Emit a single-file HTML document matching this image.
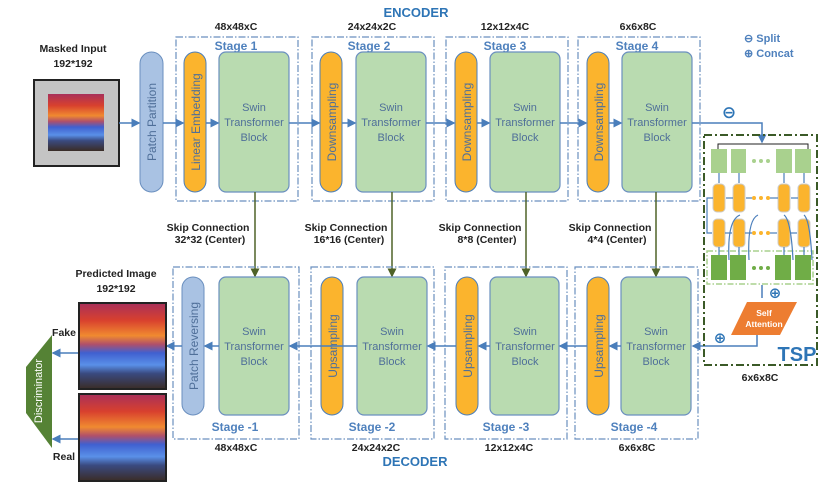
<!DOCTYPE html>
<html><head><meta charset="utf-8"><style>
body{margin:0;background:#fff}
svg{display:block}
text{font-family:"Liberation Sans",sans-serif}
.b{font-family:"DejaVu Sans","Liberation Sans",sans-serif}
.dim{font-size:10.5px;font-weight:bold;fill:#222;text-anchor:middle}
.stg{font-size:12px;font-weight:bold;fill:#4f81bd;text-anchor:middle}
.blk{font-size:11px;fill:#4f6f99;text-anchor:middle}
.vt{font-size:12px;fill:#4f6f99;text-anchor:middle}
.ln{stroke:#4a7ebb;stroke-width:1.5;fill:none}
.sk{stroke:#4f6228;stroke-width:1.5;fill:none}
.box{fill:none;stroke:#6a8fbf;stroke-width:1.2;stroke-dasharray:7 2 1.5 2}
.or{fill:#fbb42d;stroke:#4a7ebb;stroke-width:1}
.gr{fill:#b9dbb0;stroke:#6a8fbf;stroke-width:1.2}
</style></head><body>
<svg width="839" height="490" viewBox="0 0 839 490" xmlns="http://www.w3.org/2000/svg">
<defs>
<marker id="ab" markerWidth="6" markerHeight="6" refX="5" refY="3" orient="auto"><path d="M0,0 L6,3 L0,6 z" fill="#4a7ebb"/></marker>
<marker id="ag" markerWidth="6" markerHeight="6" refX="5" refY="3" orient="auto"><path d="M0,0 L6,3 L0,6 z" fill="#4f6228"/></marker>
<linearGradient id="sun" x1="0" y1="0" x2="0" y2="1">
<stop offset="0" stop-color="#a8305a"/><stop offset="0.2" stop-color="#d8402e"/><stop offset="0.38" stop-color="#f08a30"/><stop offset="0.48" stop-color="#b0506a"/><stop offset="0.58" stop-color="#4060d0"/><stop offset="0.72" stop-color="#5a90e8"/><stop offset="0.82" stop-color="#3a4a80"/><stop offset="1" stop-color="#3a2c26"/>
</linearGradient>
</defs>

<text x="416" y="17" font-size="13" font-weight="bold" fill="#2e75b6" text-anchor="middle">ENCODER</text>
<text x="415" y="466" font-size="13" font-weight="bold" fill="#2e75b6" text-anchor="middle">DECODER</text>
<text x="744" y="42" font-size="11" font-weight="bold" fill="#4f81bd">⊖ Split</text>
<text x="744" y="57" font-size="11" font-weight="bold" fill="#4f81bd">⊕ Concat</text>

<text x="73" y="52" class="dim">Masked Input</text>
<text x="73" y="67" class="dim">192*192</text>
<rect x="34" y="80" width="85" height="86" fill="#c4c4c4" stroke="#222" stroke-width="2"/>
<rect x="48" y="94" width="56" height="57" fill="url(#sun)"/>

<rect x="140" y="52" width="23" height="140" rx="11.5" fill="#a9c2e3" stroke="#6a8fbf"/>
<text class="vt" transform="translate(156,122) rotate(-90)">Patch Partition</text>

<g>
<rect class="box" x="176" y="37" width="122" height="164"/>
<rect class="box" x="312" y="37" width="122" height="164"/>
<rect class="box" x="446" y="37" width="122" height="164"/>
<rect class="box" x="578" y="37" width="122" height="164"/>
<text class="dim" x="236" y="30">48x48xC</text>
<text class="dim" x="372" y="30">24x24x2C</text>
<text class="dim" x="505" y="30">12x12x4C</text>
<text class="dim" x="638" y="30">6x6x8C</text>
<text class="stg" x="236" y="50">Stage 1</text>
<text class="stg" x="369" y="50">Stage 2</text>
<text class="stg" x="505" y="50">Stage 3</text>
<text class="stg" x="637" y="50">Stage 4</text>
<rect class="or" x="184" y="52" width="22" height="140" rx="11"/>
<rect class="or" x="320" y="52" width="22" height="140" rx="11"/>
<rect class="or" x="455" y="52" width="22" height="140" rx="11"/>
<rect class="or" x="587" y="52" width="22" height="140" rx="11"/>
<text class="vt" transform="translate(200,122) rotate(-90)">Linear Embedding</text>
<text class="vt" transform="translate(336,122) rotate(-90)">Downsampling</text>
<text class="vt" transform="translate(471,122) rotate(-90)">Downsampling</text>
<text class="vt" transform="translate(603,122) rotate(-90)">Downsampling</text>
<rect class="gr" x="219" y="52" width="70" height="140" rx="7"/>
<rect class="gr" x="356" y="52" width="70" height="140" rx="7"/>
<rect class="gr" x="490" y="52" width="70" height="140" rx="7"/>
<rect class="gr" x="622" y="52" width="70" height="140" rx="7"/>
<g class="blk">
<text x="254" y="111">Swin</text><text x="254" y="126">Transformer</text><text x="254" y="141">Block</text>
<text x="391" y="111">Swin</text><text x="391" y="126">Transformer</text><text x="391" y="141">Block</text>
<text x="525" y="111">Swin</text><text x="525" y="126">Transformer</text><text x="525" y="141">Block</text>
<text x="657" y="111">Swin</text><text x="657" y="126">Transformer</text><text x="657" y="141">Block</text>
</g>
</g>
<g class="ln">
<line x1="119" y1="123" x2="139" y2="123" marker-end="url(#ab)"/>
<line x1="163" y1="123" x2="183" y2="123" marker-end="url(#ab)"/>
<line x1="206" y1="123" x2="218" y2="123" marker-end="url(#ab)"/>
<line x1="289" y1="123" x2="319" y2="123" marker-end="url(#ab)"/>
<line x1="342" y1="123" x2="355" y2="123" marker-end="url(#ab)"/>
<line x1="426" y1="123" x2="454" y2="123" marker-end="url(#ab)"/>
<line x1="477" y1="123" x2="489" y2="123" marker-end="url(#ab)"/>
<line x1="560" y1="123" x2="586" y2="123" marker-end="url(#ab)"/>
<line x1="609" y1="123" x2="621" y2="123" marker-end="url(#ab)"/>
<polyline points="692,123 762,123 762,142" marker-end="url(#ab)"/>
</g>
<text x="729" y="118" font-size="17" font-weight="bold" fill="#2e75b6" text-anchor="middle" class="b">⊖</text>

<g class="sk">
<line x1="255" y1="192" x2="255" y2="276" marker-end="url(#ag)"/>
<line x1="392" y1="192" x2="392" y2="276" marker-end="url(#ag)"/>
<line x1="526" y1="192" x2="526" y2="276" marker-end="url(#ag)"/>
<line x1="656" y1="192" x2="656" y2="276" marker-end="url(#ag)"/>
</g>
<g class="dim" style="fill:#222">
<text x="208" y="231">Skip Connection</text><text x="210" y="243">32*32 (Center)</text>
<text x="346" y="231">Skip Connection</text><text x="349" y="243">16*16 (Center)</text>
<text x="480" y="231">Skip Connection</text><text x="487" y="243">8*8 (Center)</text>
<text x="610" y="231">Skip Connection</text><text x="617" y="243">4*4 (Center)</text>
</g>

<g>
<rect class="box" x="173" y="267" width="126" height="172"/>
<rect class="box" x="311" y="267" width="123" height="172"/>
<rect class="box" x="445" y="267" width="122" height="172"/>
<rect class="box" x="575" y="267" width="123" height="172"/>
<text class="stg" x="235" y="431">Stage -1</text>
<text class="stg" x="372" y="431">Stage -2</text>
<text class="stg" x="506" y="431">Stage -3</text>
<text class="stg" x="634" y="431">Stage -4</text>
<text class="dim" x="236" y="451">48x48xC</text>
<text class="dim" x="376" y="451">24x24x2C</text>
<text class="dim" x="509" y="451">12x12x4C</text>
<text class="dim" x="637" y="451">6x6x8C</text>
<rect x="182" y="277" width="22" height="138" rx="11" fill="#a9c2e3" stroke="#6a8fbf"/>
<rect class="or" x="321" y="277" width="22" height="138" rx="11"/>
<rect class="or" x="456" y="277" width="22" height="138" rx="11"/>
<rect class="or" x="587" y="277" width="22" height="138" rx="11"/>
<text class="vt" transform="translate(198,346) rotate(-90)">Patch Reversing</text>
<text class="vt" transform="translate(337,346) rotate(-90)">Upsampling</text>
<text class="vt" transform="translate(472,346) rotate(-90)">Upsampling</text>
<text class="vt" transform="translate(603,346) rotate(-90)">Upsampling</text>
<rect class="gr" x="219" y="277" width="70" height="138" rx="7"/>
<rect class="gr" x="357" y="277" width="70" height="138" rx="7"/>
<rect class="gr" x="490" y="277" width="69" height="138" rx="7"/>
<rect class="gr" x="621" y="277" width="70" height="138" rx="7"/>
<g class="blk">
<text x="254" y="335">Swin</text><text x="254" y="350">Transformer</text><text x="254" y="365">Block</text>
<text x="392" y="335">Swin</text><text x="392" y="350">Transformer</text><text x="392" y="365">Block</text>
<text x="525" y="335">Swin</text><text x="525" y="350">Transformer</text><text x="525" y="365">Block</text>
<text x="656" y="335">Swin</text><text x="656" y="350">Transformer</text><text x="656" y="365">Block</text>
</g>
</g>
<g class="ln">
<line x1="219" y1="346" x2="205" y2="346" marker-end="url(#ab)"/>
<line x1="182" y1="346" x2="167" y2="346" marker-end="url(#ab)"/>
<line x1="357" y1="346" x2="290" y2="346" marker-end="url(#ab)"/>
<line x1="456" y1="346" x2="428" y2="346" marker-end="url(#ab)"/>
<line x1="490" y1="346" x2="479" y2="346" marker-end="url(#ab)"/>
<line x1="587" y1="346" x2="560" y2="346" marker-end="url(#ab)"/>
<line x1="621" y1="346" x2="610" y2="346" marker-end="url(#ab)"/>
<polyline points="757,318 757,346 693,346" marker-end="url(#ab)"/>
<line x1="78" y1="353" x2="53" y2="353" marker-end="url(#ab)"/>
<line x1="78" y1="439" x2="53" y2="439" marker-end="url(#ab)"/>
</g>

<text x="116" y="277" class="dim">Predicted Image</text>
<text x="116" y="292" class="dim">192*192</text>
<rect x="79" y="303" width="87" height="86" fill="url(#sun)" stroke="#222" stroke-width="2"/>
<rect x="79" y="394" width="87" height="87" fill="url(#sun)" stroke="#222" stroke-width="2"/>
<text x="64" y="336" class="dim">Fake</text>
<text x="64" y="460" class="dim">Real</text>
<polygon points="52,335 26,367 26,413 52,448" fill="#558235"/>
<text transform="translate(42,391) rotate(-90)" font-size="11" fill="#fff" text-anchor="middle">Discriminator</text>

<rect x="704" y="135" width="113" height="230" fill="none" stroke="#3b5a27" stroke-width="2" stroke-dasharray="8 3 2 3"/>
<polyline points="718,150 718,144 808,144 808,150" fill="none" stroke="#222" stroke-width="1"/>
<g fill="#a9d18e">
<rect x="711" y="149" width="16" height="24"/><rect x="731" y="149" width="15" height="24"/>
<rect x="776" y="149" width="16" height="24"/><rect x="795" y="149" width="16" height="24"/>
</g>
<g fill="#a9d18e"><circle cx="754" cy="161" r="2"/><circle cx="761" cy="161" r="2"/><circle cx="768" cy="161" r="2"/></g>
<g class="or" style="stroke:#ccc">
<rect x="713" y="184" width="12" height="28" rx="4"/><rect x="733" y="184" width="12" height="28" rx="4"/>
<rect x="778" y="184" width="12" height="28" rx="4"/><rect x="798" y="184" width="12" height="28" rx="4"/>
<rect x="713" y="219" width="12" height="28" rx="4"/><rect x="733" y="219" width="12" height="28" rx="4"/>
<rect x="778" y="219" width="12" height="28" rx="4"/><rect x="798" y="219" width="12" height="28" rx="4"/>
</g>
<g fill="#fbb42d"><circle cx="754" cy="198" r="2"/><circle cx="761" cy="198" r="2"/><circle cx="768" cy="198" r="2"/>
<circle cx="754" cy="233" r="2"/><circle cx="761" cy="233" r="2"/><circle cx="768" cy="233" r="2"/></g>
<rect x="707" y="251" width="106" height="33" fill="none" stroke="#a9d18e" stroke-width="1.5" stroke-dasharray="6 2 1.5 2"/>
<g fill="#70ad47">
<rect x="711" y="255" width="16" height="25"/><rect x="730" y="255" width="16" height="25"/>
<rect x="775" y="255" width="16" height="25"/><rect x="795" y="255" width="16" height="25"/>
</g>
<g fill="#70ad47"><circle cx="754" cy="268" r="2"/><circle cx="761" cy="268" r="2"/><circle cx="768" cy="268" r="2"/></g>
<g stroke="#4a7ebb" stroke-width="1.2" fill="none">
<line x1="719" y1="173" x2="719" y2="183"/><line x1="739" y1="173" x2="739" y2="183"/>
<line x1="784" y1="173" x2="784" y2="183"/><line x1="804" y1="173" x2="804" y2="183"/>
<line x1="798" y1="198" x2="791" y2="198"/><line x1="778" y1="198" x2="770" y2="198"/>
<line x1="752" y1="198" x2="746" y2="198"/><line x1="733" y1="198" x2="726" y2="198"/>
<polyline points="713,198 707,198 707,233 712,233"/>
<line x1="725" y1="233" x2="732" y2="233"/><line x1="745" y1="233" x2="752" y2="233"/>
<line x1="770" y1="233" x2="777" y2="233"/><line x1="790" y1="233" x2="797" y2="233"/>
<path d="M729,260 Q727,220 740,215"/><path d="M749,260 Q747,220 758,215"/>
<path d="M793,260 Q791,220 784,215"/><path d="M812,260 Q810,220 804,215"/>
<line x1="719" y1="247" x2="719" y2="255"/><line x1="739" y1="247" x2="739" y2="255"/>
<line x1="784" y1="247" x2="784" y2="255"/><line x1="804" y1="247" x2="804" y2="255"/>
<line x1="762" y1="285" x2="762" y2="298" stroke-width="1.5"/>
</g>
<text x="775" y="298" font-size="15" font-weight="bold" fill="#2e75b6" text-anchor="middle" class="b">⊕</text>
<text x="720" y="343" font-size="15" font-weight="bold" fill="#2e75b6" text-anchor="middle" class="b">⊕</text>
<polygon points="747,302 797,302 780,335 731,335" fill="#ed7d31"/>
<text x="764" y="316" font-size="8.5" font-weight="bold" fill="#fff" text-anchor="middle">Self</text>
<text x="764" y="327" font-size="8.5" font-weight="bold" fill="#fff" text-anchor="middle">Attention</text>
<text x="797" y="361" font-size="20" font-weight="bold" fill="#2e75b6" text-anchor="middle">TSP</text>
<text x="760" y="381" class="dim">6x6x8C</text>
</svg>
</body></html>
